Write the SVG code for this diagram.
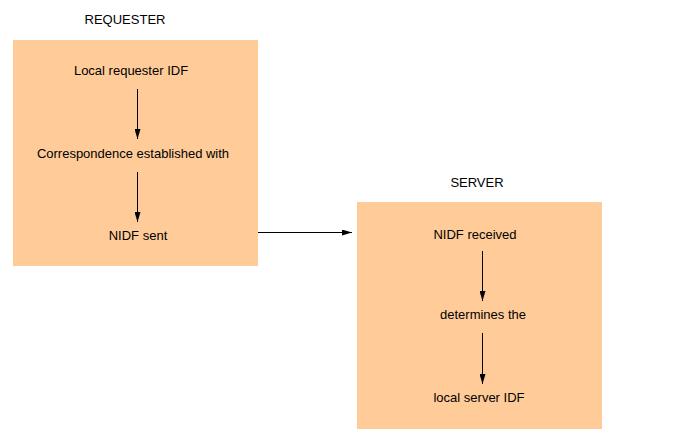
<svg xmlns="http://www.w3.org/2000/svg" width="680" height="442" viewBox="0 0 680 442">
<style>
.box{fill:#FFCC99;stroke:none}
text{font-family:"Liberation Sans",Arial,sans-serif;font-size:13px;fill:#000}
.c{stroke:#000;stroke-width:1;fill:none}
</style>
<defs>
<marker id="ah" viewBox="0 0 10 6" refX="10" refY="3" markerWidth="10" markerHeight="6" markerUnits="userSpaceOnUse" orient="auto">
<path d="M0,0 L10,3 L0,6 Z" fill="#000"/>
</marker>
</defs>
<rect width="680" height="442" fill="#fff"/>
<g id="requester">
<text x="125" y="24" text-anchor="middle">REQUESTER</text>
<rect class="box" x="13" y="40" width="245" height="226"/>
</g>
<g id="server">
<text x="477" y="187" text-anchor="middle">SERVER</text>
<rect class="box" x="357" y="202" width="245" height="227"/>
</g>
<g id="n1"><text x="131" y="75" text-anchor="middle">Local requester IDF</text></g>
<g id="n2"><text x="133" y="158" text-anchor="middle">Correspondence established with</text></g>
<g id="n3"><text x="138" y="240" text-anchor="middle">NIDF sent</text></g>
<g id="n4"><text x="475" y="239" text-anchor="middle">NIDF received</text></g>
<g id="n5"><text x="483" y="319" text-anchor="middle">determines the</text></g>
<g id="n6"><text x="479" y="402" text-anchor="middle">local server IDF</text></g>
<g id="connectors">
<line class="c" x1="137.5" y1="89" x2="137.5" y2="139" marker-end="url(#ah)"/>
<line class="c" x1="137.5" y1="172" x2="137.5" y2="222" marker-end="url(#ah)"/>
<line class="c" x1="258" y1="232.5" x2="352" y2="232.5" marker-end="url(#ah)"/>
<line class="c" x1="482.5" y1="251" x2="482.5" y2="301" marker-end="url(#ah)"/>
<line class="c" x1="482.5" y1="333" x2="482.5" y2="384" marker-end="url(#ah)"/>
</g>
</svg>
